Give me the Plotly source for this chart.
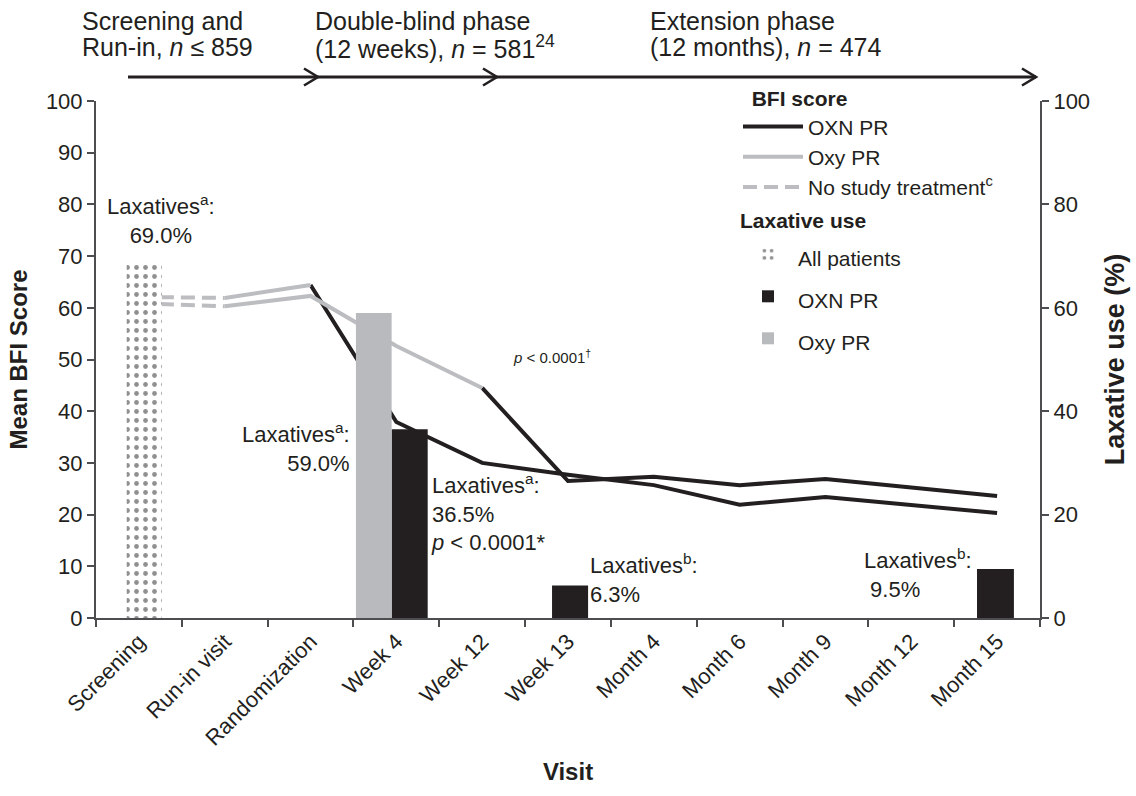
import plotly.graph_objects as go

# ---------------- data ----------------
visits = ["Screening", "Run-in visit", "Randomization", "Week 4", "Week 12", "Week 13",
          "Month 4", "Month 6", "Month 9", "Month 12", "Month 15"]

# Mean BFI score by visit (group randomized to OXN PR / group randomized to Oxy PR)
bfi_oxn_group = [62.1, 61.9, 64.4, 37.9, 30.0, 27.7, 25.7, 21.9, 23.4, 21.9, 20.3]
bfi_oxy_group = [60.9, 60.3, 62.3, 52.6, 44.5, 26.5, 27.3, 25.7, 26.9, 25.2, 23.6]

# Laxative use (%)
lax_all_visits = ["Screening"]
lax_all_values = [69.0]
lax_oxn_visits = ["Week 4", "Week 13", "Month 15"]
lax_oxn_values = [36.5, 6.3, 9.5]
lax_oxy_visits = ["Week 4"]
lax_oxy_values = [59.0]

# ---------------- style ----------------
BLACK = "#231f20"
GRAY = "#bcbdc0"
BARGRAY = "#b9babd"
AXIS = "#4d4d4f"
FONT = "Liberation Sans, Arial, sans-serif"

FIG_W, FIG_H = 1136, 796
# plot area in screen pixels
L, T, R, B = 96, 101, 1040, 618
W0, H0 = R - L, B - T


def lg(name):
    # legend label drawn at normal size inside a taller legend row
    return "<span style='font-size:21px'>" + name + "</span>"


fig = go.Figure()

# BFI lines (left axis)
fig.add_trace(go.Scatter(
    x=visits[2:] + [None] + visits[4:],
    y=bfi_oxn_group[2:] + [None] + bfi_oxy_group[4:],
    mode="lines", line=dict(color=BLACK, width=4), connectgaps=False,
    name="OXN PR", legend="legend", yaxis="y", hoverinfo="skip"))
fig.add_trace(go.Scatter(
    x=visits[1:3] + [None] + visits[1:5],
    y=bfi_oxn_group[1:3] + [None] + bfi_oxy_group[1:5],
    mode="lines", line=dict(color=GRAY, width=4), connectgaps=False,
    name="Oxy PR", legend="legend", yaxis="y", hoverinfo="skip"))
fig.add_trace(go.Scatter(
    x=visits[0:2] + [None] + visits[0:2],
    y=bfi_oxn_group[0:2] + [None] + bfi_oxy_group[0:2],
    mode="lines", line=dict(color=GRAY, width=4, dash="14px,7px"), connectgaps=False,
    name="No study treatment<sup>c</sup>", legend="legend", yaxis="y", hoverinfo="skip"))

# Laxative use bars (right axis)
fig.add_trace(go.Bar(
    x=lax_all_visits, y=lax_all_values, yaxis="y2",
    width=[0.41], offset=[-0.142],
    marker=dict(color="white", line=dict(width=0),
                pattern=dict(shape=".", fgcolor=BLACK, bgcolor="white", size=9, solidity=0.22)),
    name=lg("All patients"), legend="legend2", hoverinfo="skip"))
fig.add_trace(go.Bar(
    x=lax_oxn_visits, y=lax_oxn_values, yaxis="y2",
    width=[0.42, 0.42, 0.43], offset=[-0.055, -0.186, -0.234],
    marker=dict(color=BLACK, line=dict(width=0)),
    name=lg("OXN PR"), legend="legend2", hoverinfo="skip"))
fig.add_trace(go.Bar(
    x=lax_oxy_visits, y=lax_oxy_values, yaxis="y2",
    width=[0.416], offset=[-0.471],
    marker=dict(color=BARGRAY, line=dict(width=0)),
    name=lg("Oxy PR"), legend="legend2", hoverinfo="skip"))


# ---------------- annotations ----------------
def px(xp):
    return (xp - L) / W0


def py(yp):
    return (B - yp) / H0


ann = []
txt_font = dict(family=FONT, size=22, color=BLACK)
ann.append(dict(text="Laxatives<sup>a</sup>:<br>69.0%", x=px(161), y=py(219), xanchor="center",
                yanchor="middle", align="center", font=txt_font))
ann.append(dict(text="Laxatives<sup>a</sup>:<br>59.0%", x=px(352), y=py(447), xanchor="right",
                yanchor="middle", align="right", font=txt_font))
ann.append(dict(text="Laxatives<sup>a</sup>:<br>36.5%<br><i>p</i> < 0.0001*", x=px(429), y=py(512),
                xanchor="left", yanchor="middle", align="left", font=txt_font))
ann.append(dict(text="Laxatives<sup>b</sup>:<br>6.3%", x=px(588), y=py(578), xanchor="left",
                yanchor="middle", align="left", font=txt_font))
ann.append(dict(text="Laxatives<sup>b</sup>:<br>\u00a09.5%", x=px(862), y=py(573), xanchor="left",
                yanchor="middle", align="left", font=txt_font))
ann.append(dict(text="<i>p</i> < 0.0001<sup>\u2020</sup>", x=px(552), y=py(356), xanchor="center",
                yanchor="middle", font=dict(family=FONT, size=15, color=BLACK)))

hdr_font = dict(family=FONT, size=25, color=BLACK)
headers = [
    (80, "Screening and", "Run-in, <i>n</i> \u2264 859"),
    (313, "Double-blind phase", "(12 weeks), <i>n</i> = 581<sup>24</sup>"),
    (648, "Extension phase", "(12 months), <i>n</i> = 474"),
]
for hx, l1, l2 in headers:
    ann.append(dict(text=l1, x=px(hx), y=py(21), xanchor="left", yanchor="middle", font=hdr_font))
    ann.append(dict(text=l2, x=px(hx), y=py(47), xanchor="left", yanchor="middle", font=hdr_font))

for a in ann:
    a.setdefault("xref", "paper")
    a.setdefault("yref", "paper")
    a.setdefault("showarrow", False)

# phase arrows (decoration in paper space)
shapes = [dict(type="line", xref="paper", yref="paper", x0=px(128), x1=px(1036), y0=py(77), y1=py(77),
               line=dict(color=BLACK, width=3))]
for tip in [318, 497, 1036]:
    path = "M {:.5f},{:.5f} L {:.5f},{:.5f} L {:.5f},{:.5f}".format(
        px(tip - 14), py(68.5), px(tip), py(77), px(tip - 14), py(85.5))
    shapes.append(dict(type="path", xref="paper", yref="paper", path=path,
                       line=dict(color=BLACK, width=2.6)))

axis_common = dict(showline=True, linecolor=AXIS, linewidth=2, ticks="outside",
                   ticklen=7, tickwidth=2, tickcolor=AXIS, showgrid=False, zeroline=False,
                   automargin=False, tickfont=dict(family=FONT, size=22, color=BLACK))

fig.update_layout(
    width=FIG_W, height=FIG_H,
    margin=dict(l=L, r=FIG_W - R, t=T, b=FIG_H - B, autoexpand=False),
    paper_bgcolor="white", plot_bgcolor="white",
    font=dict(family=FONT, color=BLACK),
    barmode="overlay",
    xaxis=dict(type="category", categoryorder="array", categoryarray=visits,
               range=[-0.5, 10.5], tickson="boundaries", tickangle=-45,
               title=dict(text="<b>Visit</b>", font=dict(family=FONT, size=24, color=BLACK), standoff=14),
               **axis_common),
    yaxis=dict(range=[0, 100], dtick=10, tick0=0,
               title=dict(text="<b>Mean BFI Score</b>", font=dict(family=FONT, size=24, color=BLACK), standoff=11),
               **axis_common),
    yaxis2=dict(range=[0, 100], dtick=20, tick0=0, overlaying="y", side="right",
                title=dict(text="<b>Laxative use (%)</b>", font=dict(family=FONT, size=27, color=BLACK), standoff=16),
                **axis_common),
    legend=dict(x=px(738), y=py(79), xanchor="left", yanchor="top", itemwidth=60,
                title=dict(text="\u00a0\u00a0<b>BFI score</b>", font=dict(family=FONT, size=21, color=BLACK)),
                font=dict(family=FONT, size=21, color=BLACK), bgcolor="rgba(0,0,0,0)"),
    legend2=dict(x=px(738), y=py(201), xanchor="left", yanchor="top", itemwidth=50,
                 title=dict(text="<b>Laxative use</b>", font=dict(family=FONT, size=21, color=BLACK)),
                 font=dict(family=FONT, size=30, color=BLACK), bgcolor="rgba(0,0,0,0)"),
    annotations=ann,
    shapes=shapes,
    showlegend=True,
)

# the page's default 8px body margin would shift the figure; remove it
fig.write_html("out.html", config={"displayModeBar": False},
               post_script="document.body.style.margin='0px';")
